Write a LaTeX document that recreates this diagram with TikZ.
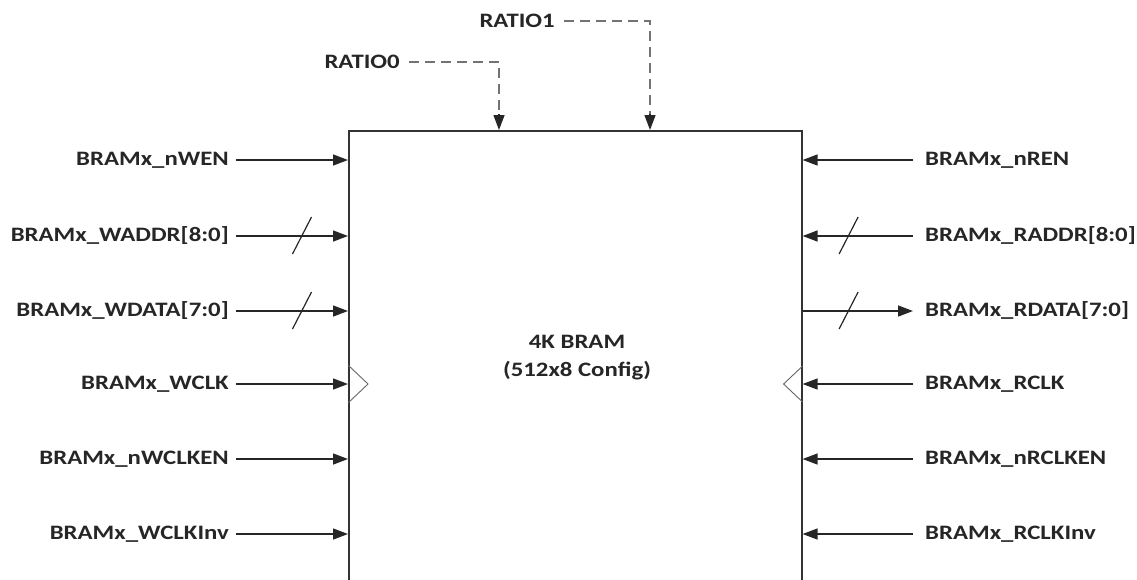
\documentclass[tikz,border=0pt]{standalone}
\usepackage{fontspec}
\setmainfont{Carlito}[FakeStretch=1.21]
\usetikzlibrary{arrows.meta}
\begin{document}
\begin{tikzpicture}[x=1pt,y=-1pt,
  lbl/.style={font=\bfseries\fontsize{20.5}{25}\selectfont, text=black!85, inner sep=0pt},
  sig/.style={line width=1.4pt, black!85, -{Triangle[length=15pt,width=11pt]}},
  dsh/.style={line width=1.3pt, black!55, dash pattern=on 10pt off 6pt},
  bus/.style={line width=1.2pt, black!85},
  clk/.style={line width=0.9pt, black!60}]
\useasboundingbox (0,0) rectangle (1137,579);
\clip (0,0) rectangle (1137,579);
\node[draw, line width=1.6pt, black!80, minimum width=453pt, minimum height=480pt, anchor=north west, inner sep=0pt] (bram) at (348,130) {};
\node[lbl, align=center, font=\bfseries\fontsize{20.5}{28}\selectfont] (title) at (577,358) {4K BRAM\\(512x8 Config)};
% left side
\foreach \n/\t/\y in {wen/BRAMx\_nWEN/160, waddr/BRAMx\_WADDR[8:0]/236, wdata/BRAMx\_WDATA[7:0]/311, wclk/BRAMx\_WCLK/384, wclken/BRAMx\_nWCLKEN/459, wclkinv/BRAMx\_WCLKInv/534}{
  \node[lbl, anchor=east] (\n) at (229,\y) {\t};
  \draw[sig, shorten <=7pt] (\n.east) -- (\n.east -| bram.west);
}
% right side inputs
\foreach \n/\t/\y in {ren/BRAMx\_nREN/160, raddr/BRAMx\_RADDR[8:0]/236, rclk/BRAMx\_RCLK/384, rclken/BRAMx\_nRCLKEN/459, rclkinv/BRAMx\_RCLKInv/534}{
  \node[lbl, anchor=west] (\n) at (925,\y) {\t};
  \draw[sig, shorten <=12pt] (\n.west) -- (\n.west -| bram.east);
}
% output
\node[lbl, anchor=west] (rdata) at (925,311) {BRAMx\_RDATA[7:0]};
\draw[sig, shorten >=12pt] (rdata.west -| bram.east) -- (rdata.west);
% bus slashes
\foreach \n in {waddr, wdata}{
  \draw[bus] ([xshift=-46pt]\n.east -| bram.west) ++(-9.5,18) -- ++(19,-37);
}
\foreach \n in {raddr, rdata}{
  \draw[bus] ([xshift=46pt]\n.west -| bram.east) ++(-9.5,18) -- ++(19,-37);
}
% clock triangles
\draw[clk] ([yshift=-19pt]wclk.east -| bram.west) -- ++(20,-19) -- ++(-20,-19);
\draw[clk] ([yshift=-18pt]rclk.west -| bram.east) -- ++(-19,-18) -- ++(19,-18);
% ratio inputs
\node[lbl, anchor=east] (r1) at (555,21) {RATIO1};
\node[lbl, anchor=east] (r0) at (400,62) {RATIO0};
\coordinate (t1) at (650,130);
\coordinate (t0) at (499,130);
\draw[dsh, shorten <=9pt] (r1.east) -- (r1.east -| t1) -- ([yshift=14pt]t1);
\draw[dsh, shorten <=9pt] (r0.east) -- (r0.east -| t0) -- ([yshift=14pt]t0);
\draw[sig] ([yshift=16pt]t1) -- (t1);
\draw[sig] ([yshift=16pt]t0) -- (t0);
\end{tikzpicture}
\end{document}
